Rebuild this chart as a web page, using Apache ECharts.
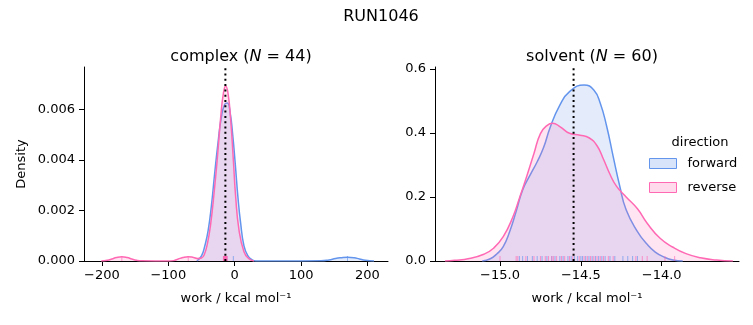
<!DOCTYPE html>
<html>
<head>
<meta charset="utf-8">
<script src="https://cdn.jsdelivr.net/npm/echarts@6/dist/echarts.min.js"></script>
<style>html,body{margin:0;padding:0;background:#fff}#c{width:753px;height:325px}</style>
</head>
<body>
<div id="c"></div>
<script>
// ---- data ----
const figTitle = 'RUN1046';
const panelNames = ['complex', 'solvent'];
const panelN = [44, 60];
const directions = ['forward', 'reverse'];

// complex panel KDE curves
const complexForwardX = [-57, -50, -45, -40, -35, -30, -25, -20, -15, -11, -7, -3, 1, 5, 9, 14, 20, 26, 32, 60, 100, 130, 142, 152, 160, 170, 180, 188, 197, 210];
const complexForwardY = [0, 0.0002, 0.0006, 0.0012, 0.0022, 0.0035, 0.0047, 0.0057, 0.0062, 0.00625, 0.0059, 0.0050, 0.0038, 0.0025, 0.0015, 0.0006, 0.0002, 0.00005, 0, 0, 0, 0.000005, 0.00004, 0.0001, 0.00013, 0.00015, 0.00013, 0.00008, 0.00003, 0];
const complexReverseX = [-201, -192, -185, -178, -170, -162, -155, -148, -140, -120, -100, -92, -85, -78, -70, -62, -56, -50, -46, -41, -36, -31, -26, -21, -17, -13.6, -10, -6, -2, 1.5, 6.5, 14, 21, 29];
const complexReverseY = [0, 0.00003, 0.00008, 0.00014, 0.00017, 0.00014, 0.00008, 0.00003, 0.000005, 0, 0, 0.000015, 0.00008, 0.00014, 0.00017, 0.00014, 0.0001, 0.00012, 0.00024, 0.0007, 0.0015, 0.0027, 0.0041, 0.0057, 0.00663, 0.00692, 0.00663, 0.00557, 0.0040, 0.00254, 0.00123, 0.00037, 0.0001, 0];

// solvent panel KDE curves
const solventForwardX = [-15.11, -15.06, -15.02, -14.98, -14.94, -14.90, -14.86, -14.81, -14.77, -14.73, -14.69, -14.63, -14.57, -14.48, -14.42, -14.38, -14.34, -14.30, -14.26, -14.22, -14.15, -14.09, -14.04, -13.98, -13.93, -13.87];
const solventForwardY = [0, 0.007, 0.022, 0.045, 0.092, 0.155, 0.222, 0.272, 0.310, 0.355, 0.417, 0.487, 0.529, 0.550, 0.534, 0.493, 0.420, 0.326, 0.235, 0.160, 0.092, 0.052, 0.028, 0.011, 0.003, 0];
const solventReverseX = [-15.34, -15.28, -15.19, -15.10, -15.04, -14.98, -14.92, -14.88, -14.835, -14.79, -14.75, -14.71, -14.674, -14.63, -14.57, -14.505, -14.45, -14.40, -14.36, -14.32, -14.28, -14.22, -14.15, -14.09, -14.01, -13.93, -13.85, -13.76, -13.66, -13.56];
const solventReverseY = [0, 0.002, 0.008, 0.021, 0.040, 0.076, 0.138, 0.196, 0.264, 0.336, 0.398, 0.423, 0.430, 0.420, 0.399, 0.393, 0.385, 0.360, 0.318, 0.271, 0.234, 0.200, 0.163, 0.118, 0.071, 0.043, 0.023, 0.010, 0.003, 0];

// rug samples
const complexForwardRug = [-16.5, -16.1, -15.8, -15.5, -15.2, -14.9, -14.8, -14.6, -14.4, -14.3, -14.0, -13.9, -13.7, -13.4, -13.3, -13.1, -12.8, -12.5, -12.2, -11.9, -2.0, 170];
const complexReverseRug = [-170, -70, -17.0, -16.8, -16.6, -16.2, -15.9, -15.6, -15.3, -15.0, -14.7, -14.4, -14.1, -13.8, -13.5, -13.2, -12.9, -12.6, -12.3, -12.0, -11.7, -11.4];
const solventForwardRug = [-14.88, -14.86, -14.83, -14.80, -14.77, -14.74, -14.71, -14.68, -14.66, -14.63, -14.61, -14.58, -14.56, -14.54, -14.52, -14.50, -14.49, -14.47, -14.45, -14.43, -14.41, -14.39, -14.37, -14.35, -14.32, -14.29, -14.24, -14.21, -14.18, -14.15];
const solventReverseRug = [-15.00, -14.90, -14.89, -14.84, -14.79, -14.75, -14.72, -14.70, -14.68, -14.67, -14.65, -14.62, -14.60, -14.57, -14.55, -14.51, -14.48, -14.46, -14.44, -14.42, -14.40, -14.38, -14.36, -14.33, -14.30, -14.16, -14.12, -14.09, -13.98, -13.92];

// reference (dotted) lines
const complexRef = -14.0;
const solventRef = -14.545;

// axes
const complexXTicks = [-200, -100, 0, 100, 200];
const complexYTicks = [0, 0.002, 0.004, 0.006];
const solventXTicks = [-15.0, -14.5, -14.0];
const solventYTicks = [0, 0.2, 0.4, 0.6];
const complexXRange = [-227, 231];
const complexYMax = 0.00767;
const solventXRange = [-15.402, -13.522];
const solventYMax = 0.606;

// ---- chart ----
const FONT = 'DejaVu Sans';
const BLUE = '#6495ED', PINK = '#FF69B4';
const BLUE_FILL = 'rgba(100,149,237,0.25)', PINK_FILL = 'rgba(255,105,180,0.25)';
const zip = (xs, ys) => xs.map((x, i) => [x, ys[i]]);
const minus = s => String(s).replace('-', '\u2212');

function xAxis(gi, range, ticks, dec) {
  return {
    type: 'value', gridIndex: gi, min: range[0], max: range[1],
    name: 'work / kcal mol\u207B\u00B9', nameLocation: 'middle', nameGap: 31,
    nameTextStyle: { fontFamily: FONT, fontSize: 13, color: '#000' },
    axisLine: { onZero: false, lineStyle: { color: '#000', width: 1 } },
    axisTick: { show: true, inside: false, length: 5, lineStyle: { color: '#000' }, customValues: ticks },
    axisLabel: { customValues: ticks, margin: 8, fontFamily: FONT, fontSize: 13, color: '#000',
      formatter: v => minus(dec ? v.toFixed(dec) : Math.round(v)) },
    splitLine: { show: false }
  };
}
function yAxis(gi, max, ticks, dec, name) {
  return {
    type: 'value', gridIndex: gi, min: 0, max: max,
    name: name || '', nameLocation: 'middle', nameGap: 56, nameRotate: 90,
    nameTextStyle: { fontFamily: FONT, fontSize: 13, color: '#000' },
    axisLine: { show: true, onZero: false, lineStyle: { color: '#000', width: 1 } },
    axisTick: { show: true, inside: false, length: 5, lineStyle: { color: '#000' }, customValues: ticks },
    axisLabel: { customValues: ticks, margin: 9, fontFamily: FONT, fontSize: 13, color: '#000',
      formatter: v => v.toFixed(dec) },
    splitLine: { show: false }
  };
}
function kde(name, gi, data, color, fill, z) {
  return {
    name: name, type: 'line', xAxisIndex: gi, yAxisIndex: gi, data: data,
    showSymbol: false, smooth: 0.5, z: z,
    lineStyle: { color: color, width: 1.5 }, itemStyle: { color: color },
    areaStyle: { color: fill, origin: 'start' }, silent: true
  };
}
function rug(name, gi, vals, color) {
  return {
    name: name, type: 'scatter', xAxisIndex: gi, yAxisIndex: gi,
    data: vals.map(v => [v, 0]), symbol: 'rect', symbolSize: [1, 5], symbolOffset: [0, -2.5],
    itemStyle: { color: color, opacity: 0.65 }, z: 6, silent: true
  };
}
function ref(gi, x, ymax) {
  return {
    name: 'ref' + gi, type: 'line', xAxisIndex: gi, yAxisIndex: gi,
    data: [[x, 0], [x, ymax]], showSymbol: false, z: 8, silent: true,
    lineStyle: { color: '#000', width: 2, type: [2, 3.3] }
  };
}
const subRich = {
  a: { fontFamily: FONT, fontSize: 16, fontWeight: 'normal', color: '#000' },
  i: { fontFamily: FONT, fontSize: 16, fontWeight: 'normal', fontStyle: 'italic', color: '#000' }
};

const chart = echarts.init(document.getElementById('c'), null, { renderer: 'canvas' });
chart.setOption({
  animation: false,
  backgroundColor: '#fff',
  textStyle: { fontFamily: FONT },
  title: [
    { text: figTitle, left: 376, top: 4, textAlign: 'center',
      textStyle: { fontFamily: FONT, fontSize: 16, fontWeight: 'normal', color: '#000' } },
    { text: '{a|' + panelNames[0] + ' (}{i|N}{a| = ' + panelN[0] + ')}', left: 236, top: 44, textAlign: 'center',
      textStyle: { fontWeight: 'normal', rich: subRich } },
    { text: '{a|' + panelNames[1] + ' (}{i|N}{a| = ' + panelN[1] + ')}', left: 587, top: 44, textAlign: 'center',
      textStyle: { fontWeight: 'normal', rich: subRich } },
    { text: 'direction', left: 695, top: 131, textAlign: 'center',
      textStyle: { fontFamily: FONT, fontSize: 13, fontWeight: 'normal', color: '#000' } }
  ],
  legend: {
    orient: 'vertical', left: 649, top: 157, padding: 0,
    itemWidth: 27, itemHeight: 10, itemGap: 11,
    textStyle: { fontFamily: FONT, fontSize: 13, color: '#000', padding: [0, 0, 0, 6] },
    data: [
      { name: directions[0], icon: 'rect', itemStyle: { color: BLUE_FILL, borderColor: BLUE, borderWidth: 1 } },
      { name: directions[1], icon: 'rect', itemStyle: { color: PINK_FILL, borderColor: PINK, borderWidth: 1 } }
    ],
    selectedMode: false
  },
  grid: [
    { left: 84, top: 67, width: 304, height: 194 },
    { left: 435, top: 67, width: 304, height: 194 }
  ],
  xAxis: [xAxis(0, complexXRange, complexXTicks, 0), xAxis(1, solventXRange, solventXTicks, 1)],
  yAxis: [yAxis(0, complexYMax, complexYTicks, 3, 'Density'), yAxis(1, solventYMax, solventYTicks, 1, '')],
  series: [
    kde(directions[0], 0, zip(complexForwardX, complexForwardY), BLUE, BLUE_FILL, 2),
    kde(directions[1], 0, zip(complexReverseX, complexReverseY), PINK, PINK_FILL, 3),
    kde(directions[0], 1, zip(solventForwardX, solventForwardY), BLUE, BLUE_FILL, 2),
    kde(directions[1], 1, zip(solventReverseX, solventReverseY), PINK, PINK_FILL, 3),
    rug('forward rug', 0, complexForwardRug, BLUE),
    rug('reverse rug', 0, complexReverseRug, PINK),
    rug('forward rug', 1, solventForwardRug, BLUE),
    rug('reverse rug', 1, solventReverseRug, PINK),
    ref(0, complexRef, complexYMax),
    ref(1, solventRef, solventYMax)
  ]
});
</script>
</body>
</html>
